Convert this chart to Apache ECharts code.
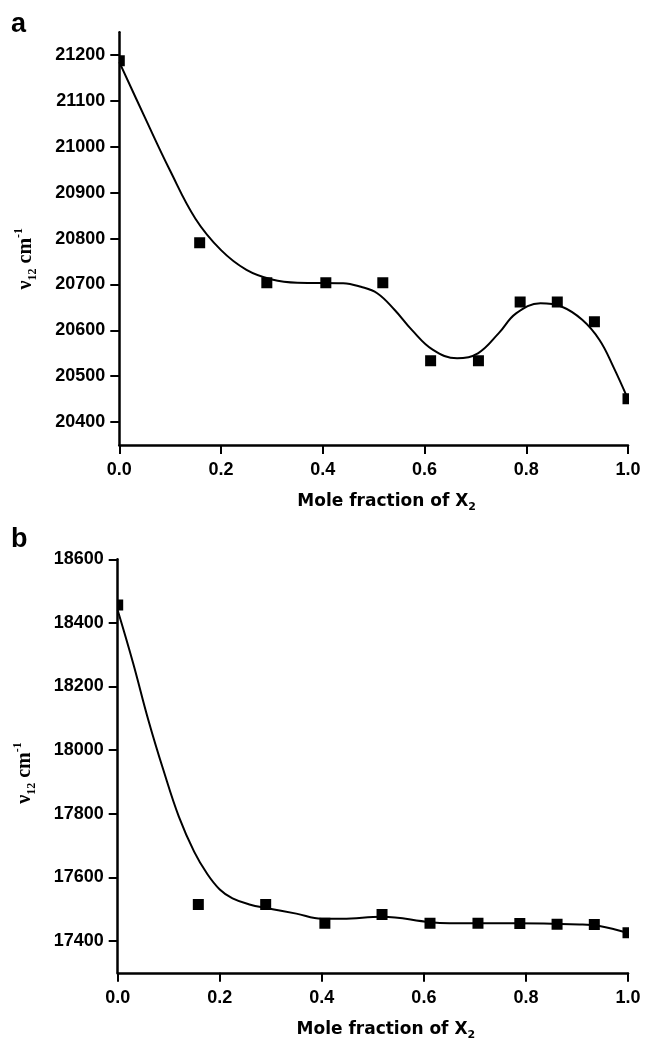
<!DOCTYPE html>
<html><head><meta charset="utf-8">
<script src="https://cdn.jsdelivr.net/npm/echarts@6/dist/echarts.min.js"></script>
<style>html,body{margin:0;padding:0;background:#fff}#c{width:646px;height:1042px}</style>
</head><body><div id="c"></div>
<script>
// ---- data ----
const xTicks = [0, 0.2, 0.4, 0.6, 0.8, 1.0];
const aYTicks = [20400, 20500, 20600, 20700, 20800, 20900, 21000, 21100, 21200];
const bYTicks = [17400, 17600, 17800, 18000, 18200, 18400, 18600];

// panel a: measured points
const aX = [0.0, 0.158, 0.290, 0.406, 0.518, 0.612, 0.706, 0.788, 0.861, 0.934, 1.0];
const aY = [21188, 20791, 20704, 20704, 20704, 20534, 20534, 20662, 20662, 20619, 20451];
// panel a: fitted curve
const aFitX = [0, 0.05, 0.10, 0.15, 0.20, 0.25, 0.30, 0.35, 0.44, 0.475, 0.507, 0.541, 0.575, 0.616, 0.664, 0.705, 0.746, 0.780, 0.828, 0.869, 0.910, 0.944, 0.971, 1.0];
const aFitY = [21185, 21065, 20948, 20843, 20775, 20732, 20711, 20704, 20703, 20695, 20681, 20645, 20601, 20558, 20539, 20550, 20594, 20637, 20659, 20652, 20623, 20579, 20521, 20450];

// panel b: measured points
const bX = [0.0, 0.158, 0.290, 0.406, 0.518, 0.612, 0.706, 0.788, 0.861, 0.934, 1.0];
const bY = [18456, 17515, 17515, 17456, 17483, 17456, 17456, 17455, 17453, 17452, 17426];
// panel b: fitted curve
const bFitX = [0, 0.03, 0.06, 0.09, 0.12, 0.15, 0.175, 0.20, 0.225, 0.26, 0.29, 0.35, 0.40, 0.44, 0.518, 0.612, 0.65, 0.775, 0.905, 0.944, 1.0];
const bFitY = [18440, 18275, 18095, 17935, 17790, 17680, 17612, 17562, 17534, 17514, 17504, 17486, 17470, 17470, 17476, 17459, 17456, 17456, 17452, 17447, 17425];

// ---- styling ----
const SANS = '"Liberation Sans", Arial, sans-serif';
const TITLE_FONT = '"DejaVu Sans", sans-serif';
const SERIF = '"Liberation Serif", "Times New Roman", serif';

function zip(xs, ys) { return xs.map((x, i) => [x, ys[i]]); }

function xAxisCfg(idx) {
  return {
    gridIndex: idx, type: 'value', min: 0, max: 1, interval: 0.2,
    axisLine: { show: true, onZero: false, lineStyle: { color: '#000', width: 2.5 } },
    axisTick: { show: true, length: 9, customValues: xTicks, lineStyle: { color: '#000', width: 2 } },
    axisLabel: { customValues: xTicks, margin: 16, color: '#000', fontFamily: SANS, fontWeight: 'bold', fontSize: 18,
      formatter: v => Number(v).toFixed(1) },
    splitLine: { show: false },
    name: '{t|Mole fraction of X}{s|2}',
    nameLocation: 'middle', nameGap: 46,
    nameTextStyle: {
      rich: {
        t: { fontFamily: TITLE_FONT, fontWeight: 'bold', fontSize: 17, color: '#000', lineHeight: 22, verticalAlign: 'middle' },
        s: { fontFamily: TITLE_FONT, fontWeight: 'bold', fontSize: 11, color: '#000', lineHeight: 12, verticalAlign: 'bottom' }
      },
      padding: [0, 0, 0, 26]
    }
  };
}

function yAxisCfg(idx, min, max, ticks, namePad) {
  return {
    gridIndex: idx, type: 'value', min: min, max: max,
    axisLine: { show: true, onZero: false, lineStyle: { color: '#000', width: 2.5 } },
    axisTick: { show: true, length: 9, customValues: ticks, lineStyle: { color: '#000', width: 2 } },
    axisLabel: { customValues: ticks, margin: 14, color: '#000', fontFamily: SANS, fontWeight: 'bold', fontSize: 18,
      formatter: v => String(Math.round(v)) },
    splitLine: { show: false },
    name: '{nu|ν}{sub|12}{cm| cm}{sup|-1}',
    nameLocation: 'middle', nameRotate: 90, nameGap: 80,
    nameTextStyle: {
      padding: namePad,
      rich: {
        nu: { fontFamily: SERIF, fontWeight: 'bold', fontSize: 20, color: '#000', lineHeight: 26, verticalAlign: 'middle' },
        cm: { fontFamily: SERIF, fontWeight: 'bold', fontSize: 20, color: '#000', lineHeight: 26, verticalAlign: 'middle' },
        sub: { fontFamily: SERIF, fontWeight: 'bold', fontSize: 12, color: '#000', lineHeight: 12, verticalAlign: 'bottom' },
        sup: { fontFamily: SERIF, fontWeight: 'bold', fontSize: 12, color: '#000', lineHeight: 12, verticalAlign: 'top' }
      }
    }
  };
}

function squares(xs, ys, idx) {
  return {
    type: 'custom', xAxisIndex: idx, yAxisIndex: idx, clip: true, z: 4,
    data: zip(xs, ys),
    encode: { x: 0, y: 1 },
    renderItem: function (params, api) {
      const p = api.coord([api.value(0), api.value(1)]);
      const s = 11;
      return { type: 'rect', shape: { x: p[0] - s / 2, y: p[1] - s / 2, width: s, height: s }, style: { fill: '#000' } };
    }
  };
}

function curve(xs, ys, idx) {
  return {
    type: 'line', xAxisIndex: idx, yAxisIndex: idx, data: zip(xs, ys),
    smooth: 0.4, showSymbol: false, symbol: 'none', clip: true, z: 3,
    lineStyle: { color: '#000', width: 2 }, silent: true
  };
}

const chart = echarts.init(document.getElementById('c'), null, { renderer: 'canvas' });
chart.setOption({
  animation: false,
  backgroundColor: '#fff',
  title: [
    { text: 'a', left: 11, top: 11, padding: 0, textStyle: { fontFamily: SANS, fontWeight: 'bold', fontSize: 27, color: '#000' } },
    { text: 'b', left: 11, top: 526, padding: 0, textStyle: { fontFamily: SANS, fontWeight: 'bold', fontSize: 27, color: '#000' } }
  ],
  grid: [
    { left: 119.3, top: 32.3, width: 508.7, height: 412.7, containLabel: false },
    { left: 117.7, top: 559.3, width: 510.3, height: 413.5, containLabel: false }
  ],
  xAxis: [xAxisCfg(0), xAxisCfg(1)],
  yAxis: [
    yAxisCfg(0, 20350, 21250, aYTicks, [0, 40, 0, 0]),
    yAxisCfg(1, 17300, 18600, bYTicks, [0, 14, 0, 0])
  ],
  series: [
    curve(aFitX, aFitY, 0),
    squares(aX, aY, 0),
    curve(bFitX, bFitY, 1),
    squares(bX, bY, 1)
  ]
});
</script>
</body></html>
